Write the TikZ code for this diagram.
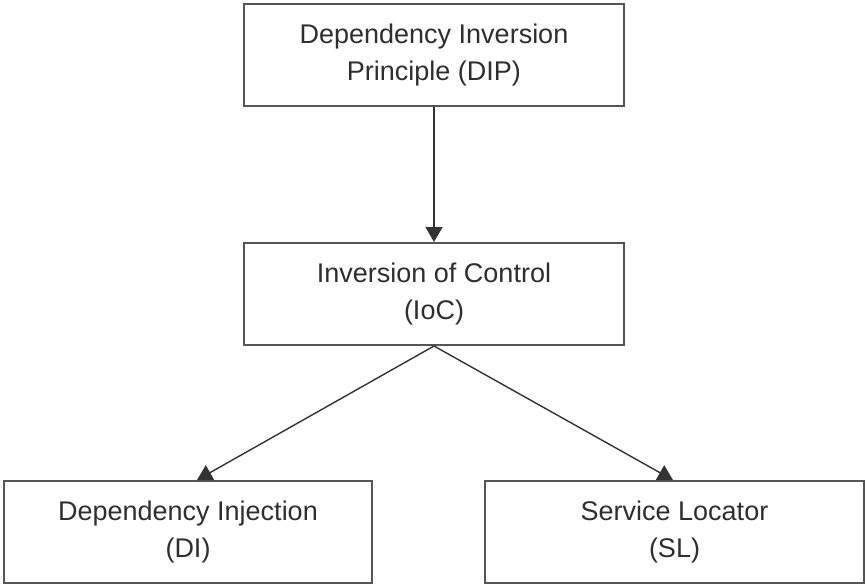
\documentclass[tikz,border=0pt]{standalone}
\usepackage{fontspec}
\setmainfont{Liberation Sans}
\usetikzlibrary{arrows.meta,calc}
\definecolor{boxline}{HTML}{555555}
\definecolor{arrline}{HTML}{333333}
\definecolor{txt}{HTML}{2E2E2E}
\tikzset{
  conceptbox/.style={draw=boxline, line width=2pt, rectangle, minimum height=102pt,
    align=center, inner sep=0pt, text=txt, font=\fontsize{27}{37}\selectfont},
  conn/.style={draw=arrline, line width=1.4pt, -{Triangle[length=15pt,width=17pt]}}
}
\begin{document}
\begin{tikzpicture}[x=1pt,y=-1pt]
\useasboundingbox (0,0) rectangle (866,584);
\node[conceptbox, minimum width=380pt] (dip) at (434,55) {Dependency Inversion\\Principle (DIP)};
\node[conceptbox, minimum width=380pt] (ioc) at (434,294) {Inversion of Control\\(IoC)};
\node[conceptbox, minimum width=368pt] (di) at (188,532) {Dependency Injection\\(DI)};
\node[conceptbox, minimum width=379pt] (sl) at (674.5,532) {Service Locator\\(SL)};
\draw[conn] (dip.south) -- (ioc.north);
\draw[conn] (ioc.south) -- ([xshift=9pt]di.north);
\draw[conn] (ioc.south) -- ([xshift=-1.5pt]sl.north);
\end{tikzpicture}
\end{document}
